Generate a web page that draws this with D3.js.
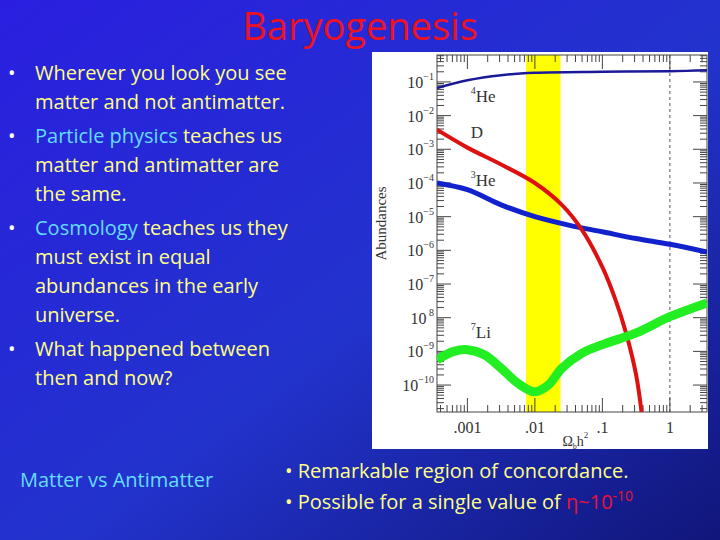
<!DOCTYPE html>
<html><head><meta charset="utf-8">
<script src="https://cdn.jsdelivr.net/npm/d3@7"></script>
<style>
  body { margin:0; }
  svg text.slide { font-family: "Open Sans", "DejaVu Sans", sans-serif; }
  svg text.plot { font-family: "Liberation Serif", serif; fill:#333; }
</style></head>
<body>
<svg id="chart" width="720" height="540"></svg>
<script>
// log10(Omega_b h^2) -> log10(abundance)
var he4X = [-3.45, -3, -2.5, -2, -1, 0, 0.55];
var he4Y = [-1.18, -0.95, -0.8, -0.73, -0.7, -0.68, -0.65];
var dX = [-3.45, -3, -2.5, -2, -1.6, -1.3, -1, -0.8, -0.65, -0.5, -0.42];
var dY = [-2.42, -2.95, -3.45, -4.0, -4.65, -5.4, -6.5, -7.5, -8.45, -9.7, -10.8];
var he3X = [-3.45, -3, -2.5, -2, -1.5, -1, -0.5, 0, 0.55];
var he3Y = [-4.0, -4.2, -4.65, -5.0, -5.25, -5.45, -5.65, -5.82, -6.05];
var liX = [-3.45, -3.2, -3, -2.75, -2.5, -2.25, -2, -1.8, -1.6, -1.3, -1, -0.5, 0, 0.55];
var liY = [-9.25, -9.0, -8.95, -9.1, -9.5, -9.95, -10.2, -10.0, -9.5, -9.05, -8.8, -8.45, -7.97, -7.56];
var bandX = [0.0074, 0.024];
var xTicks = [0.001, 0.01, 0.1, 1];
var xTickLabels = [".001", ".01", ".1", "1"];
var yTicks = [-1, -2, -3, -4, -5, -6, -7, -8, -9, -10];

var svg = d3.select('#chart');
var defs = svg.append('defs');
var grad = defs.append('linearGradient').attr('id', 'bg')
    .attr('x1', 0).attr('y1', 0).attr('x2', 1).attr('y2', 1);
grad.append('stop').attr('offset', '0%').attr('stop-color', '#2a1fe0');
grad.append('stop').attr('offset', '55%').attr('stop-color', '#2233cc');
grad.append('stop').attr('offset', '100%').attr('stop-color', '#10167a');
svg.append('rect').attr('width', 720).attr('height', 540).attr('fill', 'url(#bg)');

// title
svg.append('text').attr('class', 'slide').attr('x', 360).attr('y', 40)
    .attr('text-anchor', 'middle').attr('font-size', 38).attr('fill', '#ee1122')
    .text('Baryogenesis');

// bullets
var yellow = '#ffff88', cyan = '#66ddff';
var bullets = [
  [[['Wherever you look you see', yellow]], [['matter and not antimatter.', yellow]]],
  [[['Particle physics ', cyan], ['teaches us', yellow]], [['matter and antimatter are', yellow]], [['the same.', yellow]]],
  [[['Cosmology ', cyan], ['teaches us they', yellow]], [['must exist in equal', yellow]], [['abundances in the early', yellow]], [['universe.', yellow]]],
  [[['What happened between', yellow]], [['then and now?', yellow]]]
];
var ly = 80;
bullets.forEach(function(b) {
  svg.append('text').attr('class', 'slide').attr('x', 8).attr('y', ly)
      .attr('font-size', 20).attr('fill', '#fff').text('•');
  b.forEach(function(line) {
    var t = svg.append('text').attr('class', 'slide').attr('x', 35).attr('y', ly)
        .attr('font-size', 20);
    line.forEach(function(p) { t.append('tspan').attr('fill', p[1]).text(p[0]); });
    ly += 29;
  });
  ly += 5;
});

svg.append('text').attr('class', 'slide').attr('x', 20).attr('y', 487)
    .attr('font-size', 20).attr('fill', cyan).text('Matter vs Antimatter');
svg.append('text').attr('class', 'slide').attr('x', 285).attr('y', 478)
    .attr('font-size', 20).attr('fill', yellow).text('• Remarkable region of concordance.');
var t2 = svg.append('text').attr('class', 'slide').attr('x', 285).attr('y', 509)
    .attr('font-size', 20).attr('fill', yellow);
t2.append('tspan').text('• Possible for a single value of ');
t2.append('tspan').attr('fill', '#ee1133').text('η~10');
t2.append('tspan').attr('fill', '#ee1133').attr('font-size', 14).attr('dy', -8).text('-10');

// plot panel
svg.append('rect').attr('x', 372).attr('y', 52).attr('width', 336).attr('height', 397).attr('fill', '#fff');
var L = 437, R = 707, T = 55, B = 412;
var x = d3.scaleLinear().domain([-3.45, 0.55]).range([L, R]);
var y = d3.scaleLinear().domain([-0.2, -10.8]).range([T, B]);
var g = svg.append('g');

g.append('rect').attr('x', x(Math.log10(bandX[0]))).attr('y', T)
    .attr('width', x(Math.log10(bandX[1])) - x(Math.log10(bandX[0]))).attr('height', B - T)
    .attr('fill', '#ffff00');
g.append('line').attr('x1', x(0)).attr('x2', x(0)).attr('y1', T).attr('y2', B)
    .attr('stroke', '#555').attr('stroke-dasharray', '3,3');

g.append('rect').attr('x', L).attr('y', T).attr('width', R - L).attr('height', B - T)
    .attr('fill', 'none').attr('stroke', '#444');

// minor ticks
var xm = [];
for (var e = -4; e <= 0; e++) for (var k = 1; k <= 9; k++) {
  var v = e + Math.log10(k);
  if (v > -3.45 && v < 0.55) xm.push({v: v, major: k === 1});
}
xm.forEach(function(d) {
  var len = d.major ? 14 : 7;
  g.append('line').attr('x1', x(d.v)).attr('x2', x(d.v)).attr('y1', B).attr('y2', B - len).attr('stroke', '#444');
  g.append('line').attr('x1', x(d.v)).attr('x2', x(d.v)).attr('y1', T).attr('y2', T + len).attr('stroke', '#444');
});
var ym = [];
for (var e2 = -11; e2 <= 0; e2++) for (var k2 = 1; k2 <= 9; k2++) {
  var v2 = e2 + Math.log10(k2);
  if (v2 > -10.8 && v2 < -0.2) ym.push({v: v2, major: k2 === 1});
}
ym.forEach(function(d) {
  var len = d.major ? 14 : 7;
  g.append('line').attr('y1', y(d.v)).attr('y2', y(d.v)).attr('x1', L).attr('x2', L + len).attr('stroke', '#444');
  g.append('line').attr('y1', y(d.v)).attr('y2', y(d.v)).attr('x1', R).attr('x2', R - len).attr('stroke', '#444');
});

xTicks.forEach(function(v, i) {
  g.append('text').attr('class', 'plot').attr('x', x(Math.log10(v))).attr('y', B + 21)
      .attr('text-anchor', 'middle').attr('font-size', 16).text(xTickLabels[i]);
});
yTicks.forEach(function(v) {
  var t = g.append('text').attr('class', 'plot').attr('x', L - 3).attr('y', y(v) + 6)
      .attr('text-anchor', 'end').attr('font-size', 16);
  t.append('tspan').text('10');
  t.append('tspan').attr('font-size', 10).attr('dy', -8).text(v === -8 ? ' 8' : '−' + (-v));
});
g.append('text').attr('class', 'plot').attr('transform', 'translate(386,' + ((T + B) / 2 - 10) + ') rotate(-90)')
    .attr('text-anchor', 'middle').attr('font-size', 15).text('Abundances');
var xl = g.append('text').attr('class', 'plot').attr('x', x(-1.4)).attr('y', 446)
    .attr('text-anchor', 'middle').attr('font-size', 14);
xl.append('tspan').text('Ω');
xl.append('tspan').attr('font-size', 8).attr('dy', 3).text('b');
xl.append('tspan').attr('dy', -3).text('h');
xl.append('tspan').attr('font-size', 9).attr('dy', -8).text('2');

var line = d3.line().x(function(d) { return x(d[0]); }).y(function(d) { return y(d[1]); }).curve(d3.curveCatmullRom);
var cg = g.append('g').attr('clip-path', 'url(#clip)');
g.append('clipPath').attr('id', 'clip').append('rect').attr('x', L).attr('y', T).attr('width', R - L).attr('height', B - T);
function curve(xs, ys, color, w) {
  cg.append('path').datum(d3.zip(xs, ys)).attr('d', line)
      .attr('fill', 'none').attr('stroke', color).attr('stroke-width', w);
}
curve(he4X, he4Y, '#1a1a99', 2.5);
curve(he3X, he3Y, '#1122cc', 5);
curve(dX, dY, '#dd1111', 4);
curve(liX, liY, '#22ee22', 9);

function lab(lx, ly2, sup, main) {
  var t = g.append('text').attr('class', 'plot').attr('x', x(lx)).attr('y', y(ly2)).attr('font-size', 17);
  if (sup) t.append('tspan').attr('font-size', 10).attr('dy', -8).text(sup);
  t.append('tspan').attr('dy', sup ? 8 : 0).text(main);
}
lab(-2.95, -1.6, '4', 'He');
lab(-2.95, -2.65, null, 'D');
lab(-2.95, -4.1, '3', 'He');
lab(-2.95, -8.6, '7', 'Li');
</script>
</body></html>
